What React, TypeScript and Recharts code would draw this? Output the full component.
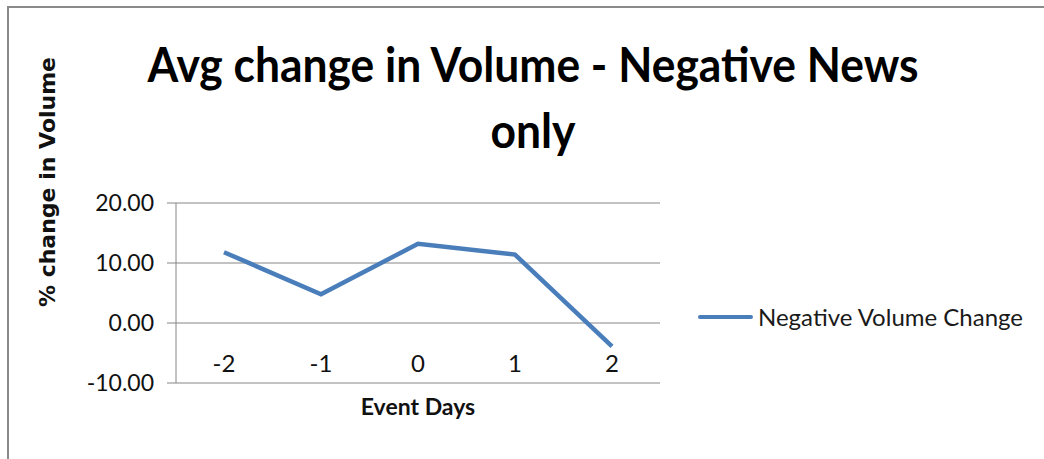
import React from 'react';
import { LineChart, Line, XAxis, YAxis, CartesianGrid, Legend } from 'recharts';

const eventDays = ['-2', '-1', '0', '1', '2'];
const volumeChange = [11.8, 4.8, 13.2, 11.4, -3.9];
const yTicks = [-10, 0, 10, 20];

const chartData = eventDays.map((day, i) => ({ day, change: volumeChange[i] }));

const LINE_COLOR = '#4a7ebb';
const GRID_COLOR = '#868686';
const FONT = 'Lato, "Open Sans", sans-serif';

const XTick = ({ x, y, payload }: any) => (
  <text x={x} y={y} dy={-11} textAnchor="middle" fill="#111" fontSize={24} fontFamily={FONT}>
    {payload.value}
  </text>
);

const LegendBox = () => (
  <div style={{ width: 346, display: 'flex', alignItems: 'center', fontFamily: FONT }}>
    <div style={{ width: 55, height: 4, background: LINE_COLOR, borderRadius: 2, marginRight: 5 }} />
    <span style={{ fontSize: 24, color: '#1a1a1a', whiteSpace: 'nowrap' }}>Negative Volume Change</span>
  </div>
);

export default function App() {
  return (
    <div style={{ position: 'absolute', left: 0, top: 0, width: 1044, height: 459, background: '#fff' }}>
      {/* frame */}
      <div
        style={{
          position: 'absolute',
          left: 7,
          top: 6,
          right: 0,
          bottom: 0,
          borderTop: '2px solid #8a8a8a',
          borderLeft: '2px solid #8a8a8a',
        }}
      />
      {/* title */}
      <svg width={1044} height={170} style={{ position: 'absolute', left: 0, top: 0 }}>
        <g fontFamily={FONT} fontWeight={700} fontSize={48} fill="#000" textAnchor="middle">
          <text x={533} y={82} textLength={771} lengthAdjust="spacingAndGlyphs">
            Avg change in Volume - Negative News
          </text>
          <text x={533} y={148} textLength={85} lengthAdjust="spacingAndGlyphs">
            only
          </text>
        </g>
      </svg>
      <LineChart
        width={1044}
        height={459}
        data={chartData}
        margin={{ top: 203, right: 38, bottom: 0, left: 0 }}
        style={{ position: 'absolute', left: 0, top: 0 }}
      >
        <CartesianGrid vertical={false} stroke={GRID_COLOR} strokeWidth={1} />
        <XAxis
          dataKey="day"
          height={76}
          padding={{ left: 48, right: 48 }}
          axisLine={false}
          tickLine={false}
          tickSize={0}
          tickMargin={0}
          tick={<XTick />}
          label={{
            content: ({ viewBox }: any) => (
              <text
                x={viewBox.x + viewBox.width / 2}
                y={viewBox.y + 32}
                textAnchor="middle"
                fontSize={23}
                fontWeight={700}
                fontFamily={FONT}
                fill="#111"
              >
                Event Days
              </text>
            ),
          }}
        />
        <YAxis
          width={176}
          domain={[-10, 20]}
          ticks={yTicks}
          tickFormatter={(v: number) => v.toFixed(2)}
          axisLine={{ stroke: GRID_COLOR }}
          tickLine={{ stroke: GRID_COLOR }}
          tickSize={9}
          tickMargin={13}
          tick={{ fill: '#111', fontSize: 23, fontFamily: FONT }}
          label={{
            content: () => (
              <text
                x={55}
                y={182}
                transform="rotate(-90 55 182)"
                textAnchor="middle"
                fontSize={22}
                fontWeight={700}
                fontFamily='"DejaVu Sans", sans-serif'
                fill="#111"
              >
                % change in Volume
              </text>
            ),
          }}
        />
        <Legend
          layout="vertical"
          align="right"
          verticalAlign="top"
          wrapperStyle={{ top: 302, right: 0 }}
          content={<LegendBox />}
        />
        <Line
          type="linear"
          dataKey="change"
          name="Negative Volume Change"
          stroke={LINE_COLOR}
          strokeWidth={4.5}
          dot={false}
          activeDot={false}
          isAnimationActive={false}
        />
      </LineChart>
    </div>
  );
}
